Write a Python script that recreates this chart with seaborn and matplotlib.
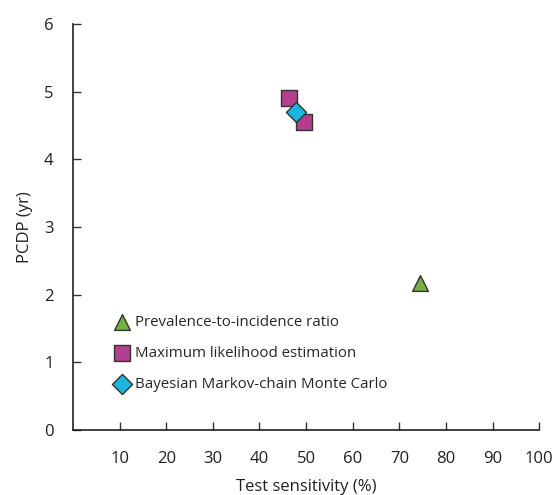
import matplotlib
matplotlib.use('Agg')
import matplotlib.pyplot as plt
import pandas as pd
import seaborn as sns

methods = ['Prevalence-to-incidence ratio',
           'Maximum likelihood estimation',
           'Maximum likelihood estimation',
           'Bayesian Markov-chain Monte Carlo']
sensitivity = [74.5, 46.3, 49.5, 47.9]
pcdp = [2.18, 4.91, 4.56, 4.70]

order = ['Prevalence-to-incidence ratio',
         'Maximum likelihood estimation',
         'Bayesian Markov-chain Monte Carlo']
colors = ['#76B043', '#B13F8E', '#1BB5DE']
markers = ['^', 's', 'D']
sizes = [130, 130, 105]

x_ticks = [10, 20, 30, 40, 50, 60, 70, 80, 90, 100]
y_ticks = [0, 1, 2, 3, 4, 5, 6]

df = pd.DataFrame({'method': methods, 'sens': sensitivity, 'pcdp': pcdp})

sns.set_style('ticks')
plt.rcParams['font.family'] = ['Open Sans', 'DejaVu Sans']

fig = plt.figure(figsize=(5.55, 4.95), dpi=100)
ax = fig.add_axes([0.1315, 0.1313, 0.84, 0.82])

for m, c, mk, sz in zip(order, colors, markers, sizes):
    sub = df[df['method'] == m]
    sns.scatterplot(data=sub, x='sens', y='pcdp', ax=ax, marker=mk, s=sz,
                    color=c, edgecolor='#333333', linewidth=1.0, label=m)

ax.set_xlim(0, 100)
ax.set_ylim(0, 6)
ax.set_xticks(x_ticks)
ax.set_yticks(y_ticks)
ax.tick_params(direction='in', length=6, width=1, labelsize=12,
               color='#333333', labelcolor='#231f20')
ax.tick_params(axis='x', pad=15)
ax.tick_params(axis='y', pad=14)
sns.despine(ax=ax)
for s in ['left', 'bottom']:
    ax.spines[s].set_linewidth(1.2)
    ax.spines[s].set_color('#231f20')

ax.set_xlabel('Test sensitivity (%)', fontsize=12, labelpad=9,
              color='#231f20')
ax.set_ylabel('PCDP (yr)', fontsize=12, labelpad=8, color='#231f20')

ax.legend(loc='lower left', bbox_to_anchor=(0.072, 0.08), frameon=False,
          fontsize=10.8, handletextpad=0.3, labelspacing=1.05,
          handlelength=1.2, borderaxespad=0)

fig.savefig('out.png', dpi=100)
